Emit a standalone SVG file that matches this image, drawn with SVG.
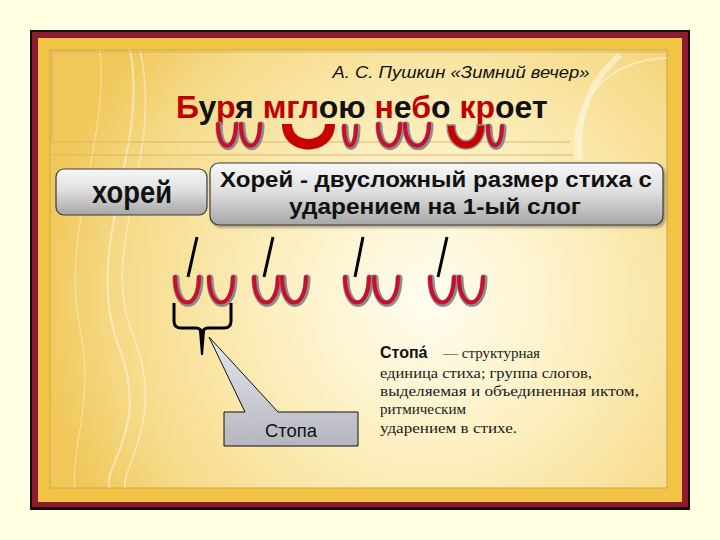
<svg xmlns="http://www.w3.org/2000/svg" width="720" height="540" viewBox="0 0 720 540">
<defs>
<radialGradient id="bg" cx="430" cy="300" r="390" gradientUnits="userSpaceOnUse">
<stop offset="0" stop-color="#FFFDF0"/>
<stop offset="0.4" stop-color="#FCEFC0"/>
<stop offset="0.8" stop-color="#F6DA88"/>
<stop offset="1" stop-color="#F0C85A"/>
</radialGradient>
<linearGradient id="btn" x1="0" y1="0" x2="0" y2="1">
<stop offset="0" stop-color="#F7F7F7"/>
<stop offset="0.45" stop-color="#E0E0E0"/>
<stop offset="1" stop-color="#A6A6A6"/>
</linearGradient>
<linearGradient id="call" gradientUnits="userSpaceOnUse" x1="0" y1="337" x2="0" y2="446">
<stop offset="0" stop-color="#E6E6EC"/>
<stop offset="1" stop-color="#B6B6C0"/>
</linearGradient>
<filter id="sh" x="-10%" y="-10%" width="120%" height="130%">
<feDropShadow dx="2" dy="2" stdDeviation="1.5" flood-color="#000" flood-opacity="0.35"/>
</filter>
<path id="bp" d="M2,0 C2,34 26,34 26,0"/>
<g id="breve">
<use href="#bp" class="bsh" transform="translate(1,1)"/>
<use href="#bp" class="brd"/>
</g>
<g id="topBreves">
<path d="M218,124 C218,153 236,153 236,124"/>
<path d="M241,124 C241,153 260,153 260,124"/>
<path d="M344,126 C344,152 356,152 356,126"/>
<path d="M378,124 C378,153 400,153 400,124"/>
<path d="M405,124 C405,153 429,153 429,124"/>
<path d="M488,126 C488,152 502,152 502,126"/>
</g>
</defs>
<style>
.bsh{fill:none;stroke:#8C8C8C;stroke-width:7;stroke-linecap:round}
.brd{fill:none;stroke:#C8102E;stroke-width:4;stroke-linecap:round}
.box{fill:url(#btn);stroke:#3A3A3A;stroke-width:1.2}
.sans{font-family:"Liberation Sans",Arial,sans-serif}
.serif{font-family:"Liberation Serif","Times New Roman",serif;font-size:15px;fill:#1A1A1A}
.r{fill:#C00000}
.stress{stroke:#000;stroke-width:3;stroke-linecap:butt}
.deco{fill:none;stroke:#FFFFFF;stroke-opacity:0.45}
.pl{fill:none;stroke:#D2B060;stroke-width:1;stroke-opacity:0.8}
</style>
<rect x="0" y="0" width="720" height="540" fill="#FFFFE1"/>
<g id="frame">
<rect x="30" y="30" width="660" height="480" fill="#1A0A0A"/>
<rect x="32" y="32" width="656" height="475" fill="#8E1B2E"/>
<rect x="38" y="38" width="644" height="464" fill="#F1C446"/>
<rect x="50" y="50" width="617" height="438" fill="url(#bg)" stroke="#CFA444" stroke-width="1"/>
<path class="deco" stroke-width="2" d="M130,50 C150,150 80,250 120,350 C150,430 100,470 110,488"/>
<path class="deco" stroke-width="1.5" d="M140,50 C165,160 95,250 135,340 C165,420 120,470 125,488"/>
<path class="deco" stroke-width="1" d="M100,50 C110,140 60,230 80,330 C95,400 70,450 75,488"/>
<path class="deco" stroke-width="6" stroke-opacity="0.2" d="M620,55 C590,80 575,120 580,160"/>
<path d="M667,58 C600,60 570,110 575,160" fill="none" stroke="#FFF6D0" stroke-opacity="0.6" stroke-width="2"/>
<path class="pl" d="M52,52 H665 M52,52 V142 H570 M52,155 H574"/>
</g>
<g id="author">
<text class="sans" x="461" y="78" font-size="17" font-style="italic" text-anchor="middle" textLength="257" lengthAdjust="spacingAndGlyphs" fill="#111">А. С. Пушкин «Зимний вечер»</text>
</g>
<g id="verse">
<text class="sans" x="176" y="118" font-size="32" font-weight="bold" fill="#111"><tspan class="r">Б</tspan>у<tspan class="r">р</tspan>я <tspan class="r">мгл</tspan>ою <tspan class="r">н</tspan>е<tspan class="r">б</tspan>о <tspan class="r">кр</tspan>оет</text>
</g>
<g id="verse-meter">
<use href="#topBreves" class="bsh" transform="translate(1,1)"/>
<use href="#topBreves" class="brd"/>
<path d="M282,124 C282,158 335,158 335,124 L325,124 C325,144 292,144 292,124 Z" fill="#C80000"/>
<path d="M447,125 C447,157 485,157 485,125 L477,125 C477,146 455,146 455,125 Z" fill="#C80000" stroke="#8C8C8C" stroke-width="1.5"/>
</g>
<g id="khorei">
<rect class="box" x="56" y="169" width="151" height="46" rx="8"/>
<text class="sans" x="132" y="203" font-size="32" font-weight="bold" text-anchor="middle" textLength="80" lengthAdjust="spacingAndGlyphs" fill="#111">хорей</text>
</g>
<g id="definition">
<rect class="box" x="210" y="163" width="453" height="62" rx="9" filter="url(#sh)"/>
<text class="sans" x="436" y="187" font-size="22" font-weight="bold" text-anchor="middle" textLength="432" lengthAdjust="spacingAndGlyphs" fill="#111">Хорей - двусложный размер стиха с</text>
<text class="sans" x="435" y="214" font-size="22" font-weight="bold" text-anchor="middle" textLength="292" lengthAdjust="spacingAndGlyphs" fill="#111">ударением на 1-ый слог</text>
</g>
<g id="scheme">
<use href="#breve" x="173" y="277"/>
<use href="#breve" x="207" y="277"/>
<use href="#breve" x="252" y="277"/>
<use href="#breve" x="280" y="277"/>
<use href="#breve" x="343" y="277"/>
<use href="#breve" x="372" y="277"/>
<use href="#breve" x="428" y="277"/>
<use href="#breve" x="457" y="277"/>
</g>
<g id="connectors">
<line class="stress" x1="197" y1="237" x2="188" y2="277"/>
<line class="stress" x1="273" y1="237" x2="264" y2="277"/>
<line class="stress" x1="363" y1="237" x2="355" y2="277"/>
<line class="stress" x1="447" y1="237" x2="438" y2="277"/>
<path d="M174,303 V321 Q174,328 181,328 H196 Q201,328 202,334 M231,303 V321 Q231,328 224,328 H208 Q203,328 202,334" fill="none" stroke="#000" stroke-width="3"/>
<path d="M199,331 L205,331 L203,355 L201,355 Z" fill="#000"/>
</g>
<g id="stopa-callout">
<path d="M224,412 H245 L209,337 L278,412 H358 V446 H224 Z" fill="url(#call)" stroke="#111" stroke-width="1"/>
<text class="sans" x="291" y="437" font-size="18" text-anchor="middle" textLength="52" lengthAdjust="spacingAndGlyphs" fill="#111">Стопа</text>
</g>
<g id="stopa-definition">
<text x="380" y="358"><tspan class="sans" font-size="16" font-weight="bold" fill="#111">Стопа́</tspan><tspan class="serif" x="443">— структурная</tspan></text>
<text class="serif" x="380" y="378" textLength="212" lengthAdjust="spacingAndGlyphs">единица стиха; группа слогов,</text>
<text class="serif" x="380" y="396" textLength="259" lengthAdjust="spacingAndGlyphs">выделяемая и объединенная иктом,</text>
<text class="serif" x="380" y="414" textLength="86" lengthAdjust="spacingAndGlyphs">ритмическим</text>
<text class="serif" x="380" y="433" textLength="137" lengthAdjust="spacingAndGlyphs">ударением в стихе.</text>
</g>
</svg>
